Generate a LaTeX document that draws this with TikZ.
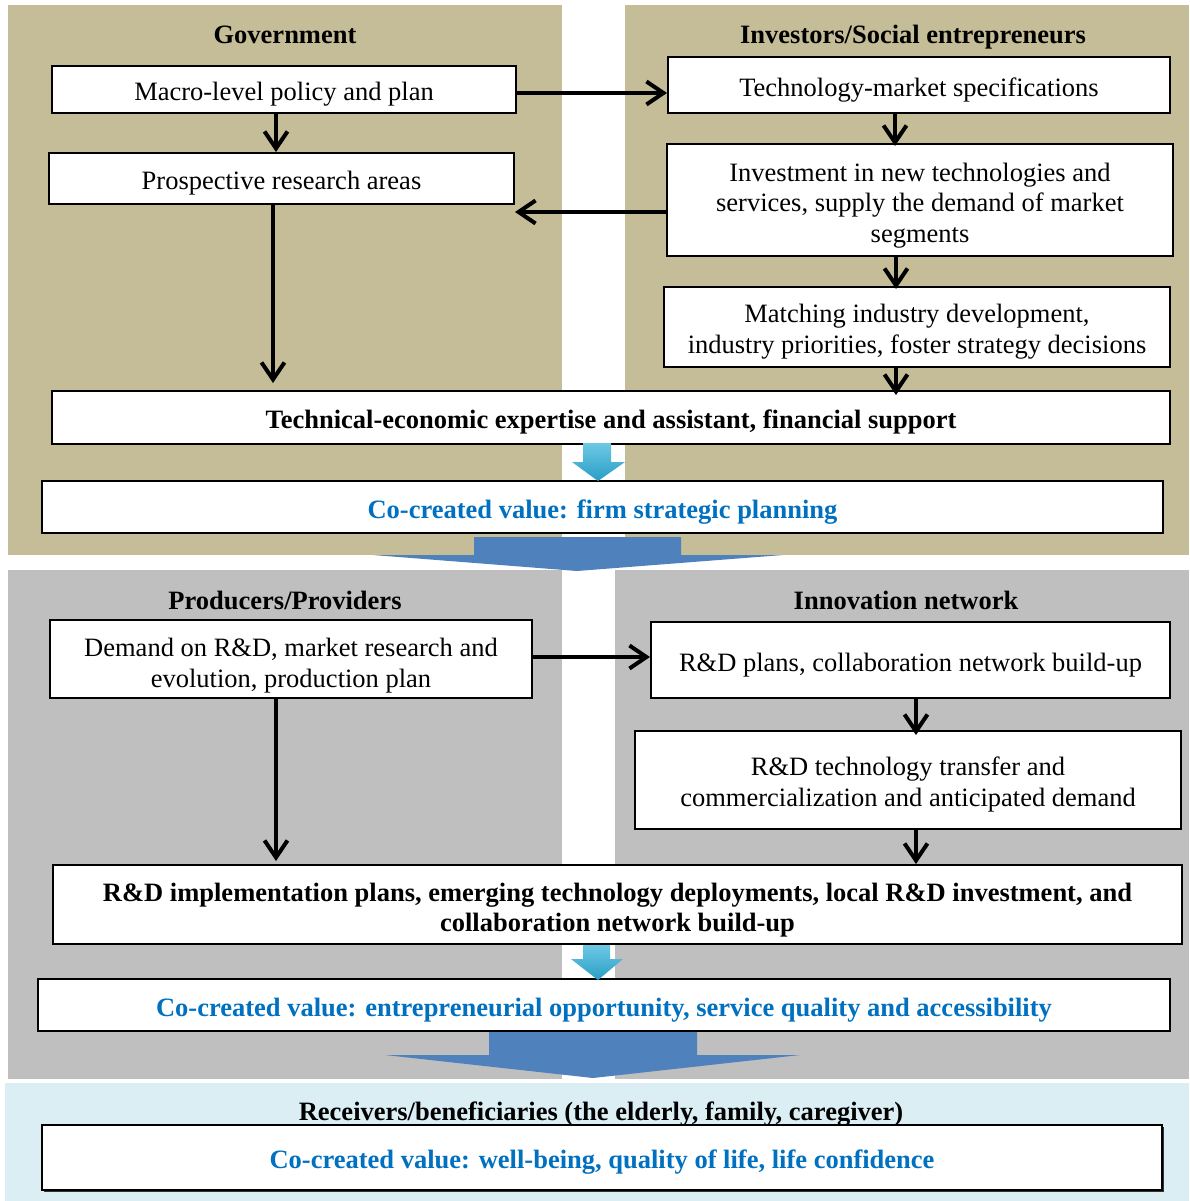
\documentclass[tikz,border=0pt]{standalone}
\usepackage{fontspec}
\setmainfont{Liberation Serif}
\usetikzlibrary{arrows.meta,shadows}
\definecolor{tanpanel}{RGB}{196,189,151}
\definecolor{panelgray}{RGB}{191,191,191}
\definecolor{lightaqua}{RGB}{219,238,244}
\definecolor{bigblue}{RGB}{79,129,189}
\definecolor{valueblue}{RGB}{0,112,192}
\definecolor{cyantop}{RGB}{110,200,228}
\definecolor{cyanbot}{RGB}{40,158,198}
\newcommand\dgmfont{\fontsize{26.5}{30.5}\selectfont}
\newcommand\dgmstrut[1]{\rule{0pt}{#1}}
\begin{document}
\begin{tikzpicture}[x=1pt,y=-1pt,
  box/.style={draw=black, line width=2pt, fill=white, inner sep=0pt, align=center, font=\dgmfont,
    execute at begin node={\rule{0pt}{28pt}}},
  boldbox/.style={box, font=\dgmfont\bfseries},
  valuebox/.style={box, font=\dgmfont\bfseries, text=valueblue},
  heading/.style={font=\dgmfont\bfseries, inner sep=0pt},
  arr/.style={line width=4pt, -{Straight Barb[length=17pt,width=23pt]}},
  bigarrow/.style={fill=bigblue},
  smallarrow/.style={top color=cyantop, bottom color=cyanbot, draw=none}]

\useasboundingbox (0,0) rectangle (1189,1201);
\fill[white] (0,0) rectangle (1189,1201);
% panels
\fill[tanpanel] (8,5) rectangle (562,555);
\fill[tanpanel] (625,5) rectangle (1189,555);
\fill[panelgray] (8,570) rectangle (562,1079);
\fill[panelgray] (615,570) rectangle (1189,1079);
\fill[lightaqua] (5,1083) rectangle (1189,1201);

% headings
\node[heading] (hgov) at (285,35) {Government};
\node[heading] (hinv) at (913,37) {Investors/Social entrepreneurs};
\node[heading] (hprod) at (285,600) {Producers/Providers};
\node[heading] (hnet) at (906,600) {Innovation network};
\node[heading] (hrec) at (601,1114) {Receivers/beneficiaries (the elderly, family, caregiver)};

% top section boxes
\node[box, minimum width=464pt, minimum height=47pt] (A) at (284,89.5) {Macro-level policy and plan};
\node[box, minimum width=502pt, minimum height=56pt] (B) at (919,85) {Technology-market specifications};
\node[box, minimum width=465pt, minimum height=51pt] (C) at (281.5,178.5) {Prospective research areas};
\node[box, minimum width=506pt, minimum height=112pt] (D) at (920,200) {\dgmstrut{29pt}Investment in new technologies and\\services, supply the demand of market\\segments};
\node[box, minimum width=506pt, minimum height=80pt] (E) at (917,327) {\dgmstrut{28pt}Matching industry development,\\industry priorities, foster strategy decisions};
\node[boldbox, minimum width=1118pt, minimum height=53pt] (F) at (611,417.5) {Technical-economic expertise and assistant, financial support};
\node[valuebox, minimum width=1121pt, minimum height=52pt] (G) at (602.5,507) {Co-created value: firm strategic planning};

% bottom section boxes
\node[box, minimum width=482pt, minimum height=78pt] (H) at (291,659) {\dgmstrut{32pt}Demand on R\&D, market research and\\evolution, production plan};
\node[box, minimum width=519pt, minimum height=76pt] (I) at (910.5,660) {R\&D plans, collaboration network build-up};
\node[box, minimum width=546pt, minimum height=98pt] (J) at (908,780) {\dgmstrut{28pt}R\&D technology transfer and\\commercialization and anticipated demand};
\node[boldbox, minimum width=1129pt, minimum height=79pt] (K) at (617.5,904.5) {\dgmstrut{30pt}R\&D implementation plans, emerging technology deployments, local R\&D investment, and\\collaboration network build-up};
\node[valuebox, minimum width=1132pt, minimum height=52pt] (L) at (604,1005) {Co-created value: entrepreneurial opportunity, service quality and accessibility};

% receivers box
\node[valuebox, minimum width=1120pt, minimum height=65pt,
  drop shadow={shadow xshift=2pt, shadow yshift=-2pt, fill=black!80, opacity=1}] (M) at (602,1157.5) {Co-created value: well-being, quality of life, life confidence};

% helper coordinates
\coordinate (yab) at (0,93);
\coordinate (ydc) at (0,212);
\coordinate (yhi) at (0,657);
\coordinate (xac) at (276,0);
\coordinate (xbd) at (895,0);
\coordinate (xde) at (896,0);
\coordinate (xcf) at (273,0);
\coordinate (xhk) at (276,0);
\coordinate (xij) at (916,0);

% connectors
\draw[arr] (A.east |- yab) -- (B.west |- yab);
\draw[arr] (A.south -| xac) -- (C.north -| xac);
\draw[arr, shorten >=-3pt] (B.south -| xbd) -- (D.north -| xbd);
\draw[arr] (D.west |- ydc) -- (C.east |- ydc);
\draw[arr, shorten >=-3pt] (D.south -| xde) -- (E.north -| xde);
\draw[arr, shorten >=7pt] (C.south -| xcf) -- (F.north -| xcf);
\draw[arr, shorten >=-5pt] (E.south -| xde) -- (F.north -| xde);
\draw[arr] (H.east |- yhi) -- (I.west |- yhi);
\draw[arr, shorten >=3pt] (H.south -| xhk) -- (K.north -| xhk);
\draw[arr, shorten >=-5pt] (I.south -| xij) -- (J.north -| xij);
\draw[arr] (J.south -| xij) -- (K.north -| xij);

% small value arrows
\path[smallarrow] (583,443) -- (611,443) -- (611,462) -- (625,462) -- (598,481) -- (572,462) -- (583,462) -- cycle;
\path[smallarrow] (583,945) -- (610,945) -- (610,959) -- (623,959) -- (598,980) -- (571,959) -- (583,959) -- cycle;

% big section arrows
\fill[bigarrow] (474,537) -- (681,537) -- (681,555) -- (783,555) -- (577,571) -- (373,555) -- (474,555) -- cycle;
\fill[bigarrow] (489,1032) -- (697,1032) -- (697,1055) -- (800,1055) -- (593,1078) -- (385,1055) -- (489,1055) -- cycle;
\end{tikzpicture}
\end{document}
